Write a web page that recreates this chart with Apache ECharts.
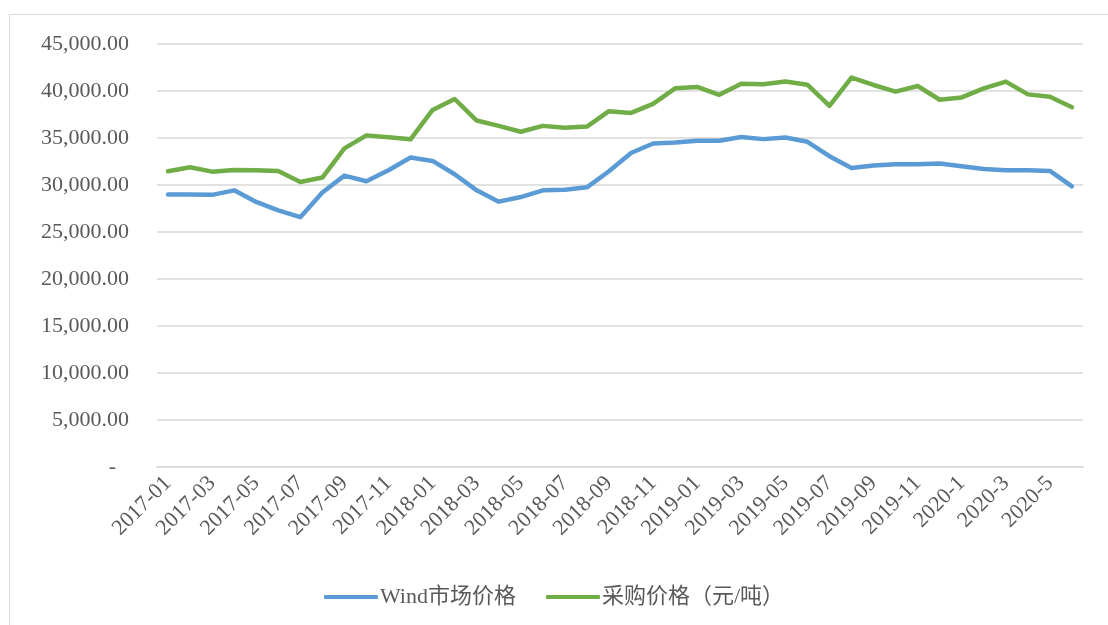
<!DOCTYPE html>
<html>
<head>
<meta charset="utf-8">
<title>Wind市场价格 vs 采购价格</title>
<script src="https://cdn.jsdelivr.net/npm/echarts@6/dist/echarts.min.js"></script>
<style>
  html, body { margin: 0; padding: 0; background: #fff; }
  #chart { width: 1108px; height: 625px; }
</style>
</head>
<body>
<div id="chart"></div>
<script>
// months 2017-01 .. 2020-6 (2020 labels written without leading zero, as in the source)
var months = [
  '2017-01','2017-02','2017-03','2017-04','2017-05','2017-06','2017-07','2017-08','2017-09','2017-10','2017-11','2017-12',
  '2018-01','2018-02','2018-03','2018-04','2018-05','2018-06','2018-07','2018-08','2018-09','2018-10','2018-11','2018-12',
  '2019-01','2019-02','2019-03','2019-04','2019-05','2019-06','2019-07','2019-08','2019-09','2019-10','2019-11','2019-12',
  '2020-1','2020-2','2020-3','2020-4','2020-5','2020-6'
]

var windPrice = [
  29000, 29000, 28950, 29430, 28200, 27300, 26580, 29200, 31000, 30400, 31570, 32920,
  32560, 31140, 29430, 28230, 28720, 29430, 29500, 29750, 31460, 33410, 34420, 34530,
  34700, 34700, 35100, 34880, 35050, 34600, 33070, 31820, 32070, 32210, 32210, 32280,
  32000, 31710, 31570, 31570, 31500, 29860
]

var purchasePrice = [
  31460, 31890, 31420, 31600, 31580, 31500, 30320, 30790, 33890, 35280, 35070, 34860,
  37990, 39150, 36860, 36290, 35660, 36290, 36080, 36220, 37850, 37670, 38630, 40280,
  40430, 39600, 40780, 40710, 41000, 40670, 38420, 41420, 40640, 39930, 40530, 39070,
  39320, 40280, 41000, 39640, 39390, 38280
]

var seriesNames = ['Wind市场价格', '采购价格（元/吨）']

var chart = echarts.init(document.getElementById('chart'))

function fmtMoney(v) {
  if (v === 0) return '{dash|-}'
  return v.toLocaleString('en-US', { minimumFractionDigits: 2, maximumFractionDigits: 2 })
}

chart.setOption({
  animation: false,
  textStyle: { fontFamily: '"Liberation Serif", "Noto Sans CJK SC", serif' },
  graphic: [{
    type: 'rect',
    shape: { x: 9.5, y: 14.5, width: 1200, height: 700 },
    style: { fill: 'none', stroke: '#d9d9d9', lineWidth: 1 },
    silent: true
  }],
  grid: {
    left: 157,
    right: 25,
    top: 44,
    bottom: 158
  },
  legend: {
    bottom: 12,
    left: 'center',
    itemWidth: 54,
    itemHeight: 4,
    itemGap: 30,
    icon: 'roundRect',
    textStyle: {
      fontSize: 22,
      color: '#595959',
      fontFamily: '"Liberation Serif", "Noto Sans CJK SC", serif',
      padding: [0, 0, 0, -3]
    },
    data: seriesNames
  },
  xAxis: {
    type: 'category',
    data: months,
    boundaryGap: true,
    axisLine: { lineStyle: { color: '#d9d9d9', width: 1.5 } },
    axisTick: { show: false },
    axisLabel: {
      interval: 1,
      rotate: 45,
      margin: 13,
      fontSize: 22,
      color: '#595959'
    }
  },
  yAxis: {
    type: 'value',
    min: 0,
    max: 45000,
    interval: 5000,
    axisLine: { show: false },
    axisTick: { show: false },
    splitLine: { lineStyle: { color: '#d9d9d9', width: 1.5 } },
    axisLabel: {
      margin: 28,
      fontSize: 22,
      color: '#595959',
      formatter: fmtMoney,
      rich: {
        dash: { fontSize: 22, color: '#595959', padding: [0, 13, 0, 0] }
      }
    }
  },
  series: [{
    name: seriesNames[0],
    type: 'line',
    data: windPrice,
    symbol: 'none',
    itemStyle: { color: '#5b9bd5' },
    lineStyle: { color: '#5b9bd5', width: 4.5, cap: 'round', join: 'round' }
  }, {
    name: seriesNames[1],
    type: 'line',
    data: purchasePrice,
    symbol: 'none',
    itemStyle: { color: '#70ad47' },
    lineStyle: { color: '#70ad47', width: 4.5, cap: 'round', join: 'round' }
  }]
})
</script>
</body>
</html>
